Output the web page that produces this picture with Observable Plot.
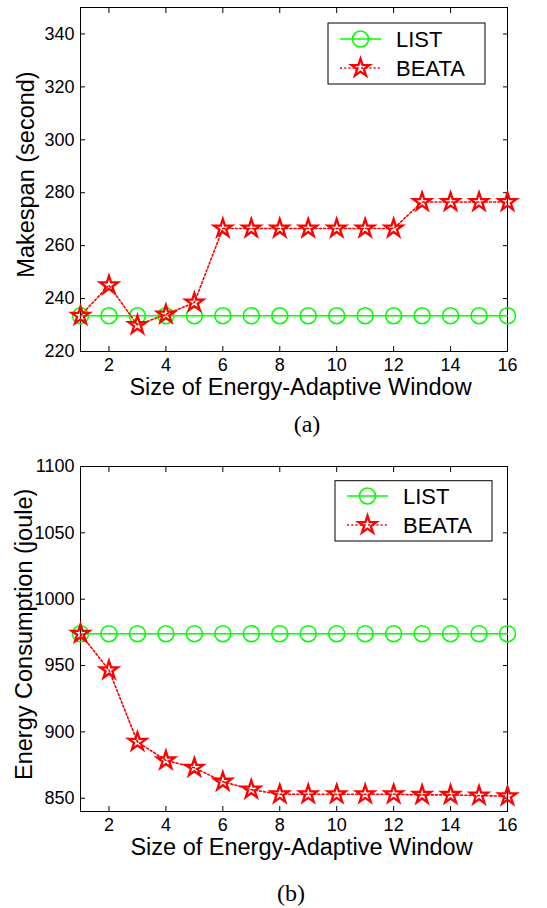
<!DOCTYPE html>
<html><head><meta charset="utf-8">
<script src="https://cdn.jsdelivr.net/npm/d3@7"></script>
<script src="https://cdn.jsdelivr.net/npm/@observablehq/plot@0.6"></script>
<style>
body{margin:0;background:#fff;}
#fig{position:relative;width:547px;height:908px;background:#fff;overflow:hidden}
.panel{position:absolute;left:0}
.cap{position:absolute;font-family:"Liberation Serif","Times New Roman",serif;font-size:24px;line-height:24px;width:60px;text-align:center;color:#000}
</style></head><body>
<div id="fig"></div>
<script>
// ---- data ----
const windowSizes = [1,2,3,4,5,6,7,8,9,10,11,12,13,14,15,16];
const xTicks = [2,4,6,8,10,12,14,16];
const seriesNames = ["LIST","BEATA"];
const makespanTicks = [220,240,260,280,300,320,340];
const makespanList  = [233.5,233.5,233.5,233.5,233.5,233.5,233.5,233.5,233.5,233.5,233.5,233.5,233.5,233.5,233.5,233.5];
const makespanBeata = [233.5,245,230,234,238.5,266.5,266.5,266.5,266.5,266.5,266.5,266.5,276.5,276.5,276.5,276.5];
const energyTicks = [850,900,950,1000,1050,1100];
const energyList  = [974,974,974,974,974,974,974,974,974,974,974,974,974,974,974,974];
const energyBeata = [974,946.5,892.5,878.5,873,862.5,856.5,853,853,853,853,853,852.5,852.5,852,851.5];
const captions = ["(a)","(b)"];
const xLabel = "Size of Energy-Adaptive Window";

const GREEN = "#00ff00", RED = "#ff0000";
const FONT = "'Liberation Sans', Arial, sans-serif";

function makePanel(o) {
  const listData = windowSizes.map((x,i)=>({x, y:o.list[i]}));
  const beataData = windowSizes.map((x,i)=>({x, y:o.beata[i]}));
  const svg = Plot.plot({
    width: 547, height: o.height,
    marginLeft: 80, marginRight: 40, marginTop: o.mt, marginBottom: o.mb,
    style: {fontFamily: FONT, fontSize: "18px", color: "#000", background: "transparent", overflow: "visible"},
    x: {domain: [1,16]},
    y: {domain: o.yDomain},
    marks: [
      Plot.frame({stroke: "#000", strokeWidth: 1}),
      Plot.axisX({ticks: xTicks, tickSize: -5, tickPadding: 12, tickFormat: d3.format("d"), label: null, fontSize: 18}),
      Plot.axisX({anchor: "top", ticks: xTicks, tickSize: -5, tickFormat: () => "", label: null}),
      Plot.axisY({ticks: o.yTicks, tickSize: -5, tickPadding: 11, tickFormat: d3.format("d"), label: null, fontSize: 18}),
      Plot.axisY({anchor: "right", ticks: o.yTicks, tickSize: -5, tickFormat: () => "", label: null}),
      Plot.line(listData, {x: "x", y: "y", stroke: GREEN, strokeWidth: 1.5}),
      Plot.dot(listData, {x: "x", y: "y", r: 8, stroke: GREEN, strokeWidth: 1.6, fill: "none"}),
      Plot.line(beataData, {x: "x", y: "y", stroke: RED, strokeWidth: 1.6, strokeDasharray: "2,2.2"}),
      Plot.dot(beataData, {x: "x", y: "y", r: 5.6, symbol: "star", stroke: RED, strokeWidth: 2.3, fill: "none"}),
      Plot.text([xLabel], {frameAnchor: "bottom", text: d => d, lineAnchor: "bottom", dy: o.xlDy, dx: o.xlDx, fontSize: 23.5}),
      Plot.text([o.yLabel], {frameAnchor: "left", text: d => d, rotate: -90, lineAnchor: "bottom", textAnchor: "middle", dx: o.ylDx, dy: o.ylDy, fontSize: 23.5})
    ]
  });
  // legend
  const lg = d3.select(svg).append("g").attr("transform", `translate(${o.lgX},${o.lgY})`);
  lg.append("rect").attr("width", 157).attr("height", o.lgH).attr("fill", "#fff").attr("stroke", "#000").attr("stroke-width", 1);
  const rows = [o.lgR1, o.lgR2];
  seriesNames.forEach((name, i) => {
    const g = lg.append("g").attr("transform", `translate(0,${rows[i]})`);
    g.append("line").attr("x1", 12).attr("x2", 53).attr("stroke", i ? RED : GREEN)
      .attr("stroke-width", i ? 1.6 : 1.5).attr("stroke-dasharray", i ? "2,2.2" : null);
    if (i) {
      g.append("path").attr("transform", "translate(32.5,0)")
        .attr("d", d3.symbol(d3.symbolStar, 5.6*5.6*Math.PI)())
        .attr("fill", "none").attr("stroke", RED).attr("stroke-width", 2.3);
    } else {
      g.append("circle").attr("cx", 32.5).attr("r", 8).attr("fill", "none").attr("stroke", GREEN).attr("stroke-width", 1.6);
    }
    g.append("text").attr("x", 68).attr("y", 0).attr("dy", "0.36em").attr("text-anchor", "start")
      .attr("font-family", FONT).attr("font-size", 22).attr("fill", "#000").text(name);
  });
  svg.classList.add("panel");
  svg.style.top = o.top + "px";
  return svg;
}

const fig = document.getElementById("fig");
fig.appendChild(makePanel({
  top: 0, height: 400, mt: 7, mb: 49,
  yDomain: [220,350], yTicks: makespanTicks, list: makespanList, beata: makespanBeata,
  yLabel: "Makespan (second)", xlDy: 43, xlDx: 6.5, ylDx: -46.7, ylDy: -5,
  lgX: 328, lgY: 23, lgH: 61, lgR1: 16, lgR2: 45
}));
fig.appendChild(makePanel({
  top: 440, height: 420, mt: 26, mb: 49,
  yDomain: [840,1100], yTicks: energyTicks, list: energyList, beata: energyBeata,
  yLabel: "Energy Consumption (joule)", xlDy: 43, xlDx: 7.5, ylDx: -48.3, ylDy: -4.7,
  lgX: 335, lgY: 40.7, lgH: 60.3, lgR1: 15.3, lgR2: 44.3
}));
[[captions[0], 307, 412], [captions[1], 291, 880.6]].forEach(([t, cx, top]) => {
  const d = document.createElement("div");
  d.className = "cap"; d.textContent = t;
  d.style.left = (cx - 30) + "px"; d.style.top = top + "px";
  fig.appendChild(d);
});
</script>
</body></html>
